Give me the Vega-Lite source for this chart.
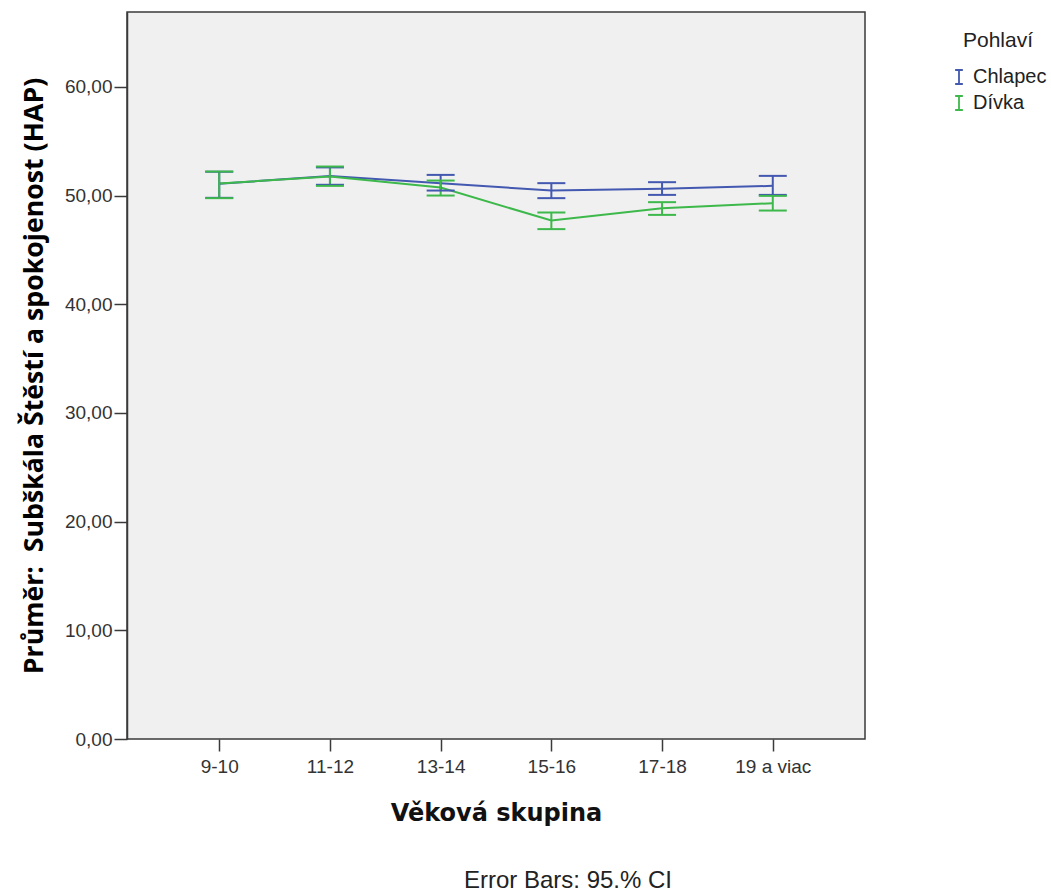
{
  "$schema": "https://vega.github.io/schema/vega-lite/v6.json",
  "width": 738,
  "height": 727,
  "autosize": "none",
  "padding": {"left": 127, "top": 12, "right": 186, "bottom": 154},
  "background": "white",
  "title": {
    "text": "Error Bars: 95.% CI",
    "orient": "bottom",
    "anchor": "middle",
    "dx": 72,
    "offset": 44,
    "font": "Liberation Sans",
    "fontSize": 24,
    "fontWeight": "normal",
    "color": "#222"
  },
  "config": {
    "view": {"fill": "#F0F0F0", "stroke": "#3a3a3a", "strokeWidth": 1.5},
    "axis": {
      "labelFont": "Liberation Sans",
      "labelFontSize": 19,
      "labelColor": "#333",
      "domainColor": "#3a3a3a",
      "tickColor": "#3a3a3a",
      "tickWidth": 1.5,
      "domainWidth": 1.5,
      "grid": false
    }
  },
  "data": {
    "values": [
      {"age": "9-10", "sex": "Chlapec", "mean": 51.1, "lo": 49.8, "hi": 52.2},
      {"age": "11-12", "sex": "Chlapec", "mean": 51.8, "lo": 51.0, "hi": 52.6},
      {"age": "13-14", "sex": "Chlapec", "mean": 51.15, "lo": 50.47, "hi": 51.91},
      {"age": "15-16", "sex": "Chlapec", "mean": 50.47, "lo": 49.77, "hi": 51.15},
      {"age": "17-18", "sex": "Chlapec", "mean": 50.63, "lo": 50.07, "hi": 51.24},
      {"age": "19 a viac", "sex": "Chlapec", "mean": 50.9, "lo": 50.07, "hi": 51.82},
      {"age": "9-10", "sex": "Dívka", "mean": 51.11, "lo": 49.77, "hi": 52.22},
      {"age": "11-12", "sex": "Dívka", "mean": 51.76, "lo": 50.9, "hi": 52.68},
      {"age": "13-14", "sex": "Dívka", "mean": 50.74, "lo": 50.01, "hi": 51.39},
      {"age": "15-16", "sex": "Dívka", "mean": 47.71, "lo": 46.92, "hi": 48.45},
      {"age": "17-18", "sex": "Dívka", "mean": 48.85, "lo": 48.23, "hi": 49.4},
      {"age": "19 a viac", "sex": "Dívka", "mean": 49.31, "lo": 48.63, "hi": 49.98}
    ]
  },
  "encoding": {
    "x": {
      "field": "age",
      "type": "ordinal",
      "sort": ["9-10", "11-12", "13-14", "15-16", "17-18", "19 a viac"],
      "scale": {"type": "point", "padding": 0.833},
      "axis": {
        "title": "Věková skupina",
        "titleFont": "DejaVu Sans",
        "titleFontSize": 24,
        "titleFontWeight": "bold",
        "titleColor": "#111",
        "titlePadding": 25,
        "labelAngle": 0,
        "tickSize": 12,
        "labelPadding": 6,
        "domain": false
      }
    },
    "color": {
      "field": "sex",
      "type": "nominal",
      "scale": {"domain": ["Chlapec", "Dívka"], "range": ["#4358B0", "#3DB84A"]},
      "legend": {
        "title": "Pohlaví",
        "orient": "none",
        "legendX": 822,
        "legendY": 18,
        "titleFont": "Liberation Sans",
        "titleFontSize": 21,
        "titleFontWeight": "normal",
        "titleColor": "#222",
        "titlePadding": 16,
        "titleAnchor": "middle",
        "labelFont": "Liberation Sans",
        "labelFontSize": 20,
        "labelColor": "#222",
        "labelOffset": 4,
        "rowPadding": 4,
        "symbolType": "M-0.55,-1H0.55M0,-1V1M-0.55,1H0.55",
        "symbolSize": 196,
        "symbolStrokeWidth": 1.8
      }
    }
  },
  "layer": [
    {
      "mark": {"type": "line", "strokeWidth": 2},
      "encoding": {
        "y": {
          "field": "mean",
          "type": "quantitative",
          "scale": {"domain": [0, 66.9], "nice": false, "zero": true},
          "axis": {
            "title": "Průměr:\u00a0 Subškála Štěstí a spokojenost (HAP)",
            "titleFont": "Open Sans",
            "titleFontSize": 26.7,
            "titleFontWeight": "bold",
            "titleColor": "#000",
            "titlePadding": 16,
            "values": [0, 10, 20, 30, 40, 50, 60],
            "labelExpr": "replace(format(datum.value, '.2f'), '.', ',')",
            "tickSize": 13,
            "labelPadding": 2
          }
        }
      }
    },
    {
      "mark": {"type": "rule", "strokeWidth": 2, "opacity": 1},
      "encoding": {
        "y": {"field": "lo", "type": "quantitative"},
        "y2": {"field": "hi"}
      }
    },
    {
      "mark": {"type": "tick", "size": 28, "thickness": 2, "orient": "horizontal", "opacity": 1},
      "encoding": {"y": {"field": "lo", "type": "quantitative"}}
    },
    {
      "mark": {"type": "tick", "size": 28, "thickness": 2, "orient": "horizontal", "opacity": 1},
      "encoding": {"y": {"field": "hi", "type": "quantitative"}}
    }
  ]
}
